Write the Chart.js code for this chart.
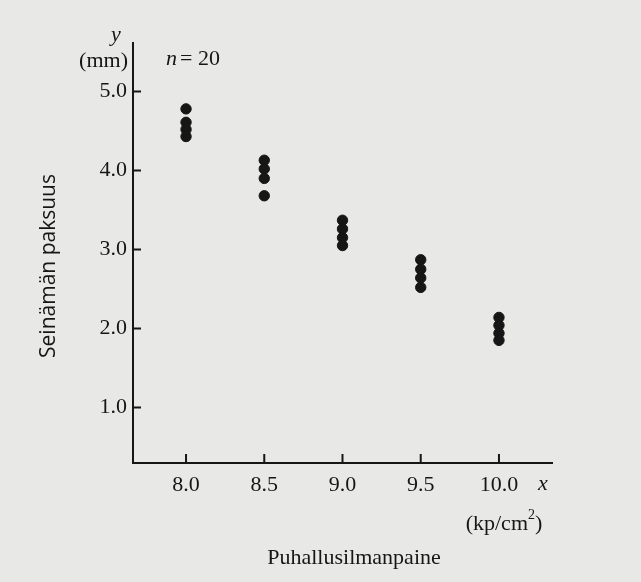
<!DOCTYPE html>
<html>
<head>
<meta charset="utf-8">
<script src="https://cdn.jsdelivr.net/npm/chart.js@4.4.1/dist/chart.umd.min.js"></script>
<style>
  html, body { margin: 0; padding: 0; background: #e8e8e6; }
  #wrap { width: 641px; height: 582px; }
</style>
</head>
<body>
<div id="wrap"><canvas id="chart" width="641" height="582"></canvas></div>
<script>
// blowing pressure (kp/cm2) and measured wall thickness (mm), n = 20
const pressures = [8.0, 8.5, 9.0, 9.5, 10.0];
const thick_80  = [4.78, 4.61, 4.52, 4.43];
const thick_85  = [4.13, 4.02, 3.90, 3.68];
const thick_90  = [3.37, 3.26, 3.15, 3.05];
const thick_95  = [2.87, 2.75, 2.64, 2.52];
const thick_100 = [2.14, 2.04, 1.94, 1.85];
const xTicks = [8.0, 8.5, 9.0, 9.5, 10.0];
const yTicks = [1.0, 2.0, 3.0, 4.0, 5.0];

const groups = [thick_80, thick_85, thick_90, thick_95, thick_100];
const points = [];
pressures.forEach((p, i) => {
	groups[i].forEach(v => points.push({x: p, y: v}));
});

const ink = '#161616';
const serif = '"Liberation Serif", "DejaVu Serif", serif';

// ticks point inward in the book figure, so draw them ourselves
const bookAxes = {
	id: 'bookAxes',
	afterDraw (chart) {
		const ctx = chart.ctx;
		const xs = chart.scales.x, ys = chart.scales.y;
		const area = chart.chartArea;
		ctx.save();
		ctx.strokeStyle = ink;
		ctx.lineWidth = 2;
		ctx.beginPath();
		xTicks.forEach(v => {
			const px = xs.getPixelForValue(v);
			ctx.moveTo(px, area.bottom);
			ctx.lineTo(px, area.bottom - 9);
		});
		yTicks.forEach(v => {
			const py = ys.getPixelForValue(v);
			ctx.moveTo(area.left, py);
			ctx.lineTo(area.left + 8, py);
		});
		ctx.stroke();

		ctx.fillStyle = ink;
		ctx.textBaseline = 'middle';
		ctx.textAlign = 'left';
		ctx.font = 'italic 22px ' + serif;
		ctx.fillText('y', 111, 35);
		ctx.fillText('x', 538, 484);
		ctx.fillText('n', 166, 59);
		ctx.font = '22px ' + serif;
		ctx.fillText('= 20', 180, 59);
		ctx.textAlign = 'right';
		ctx.fillText('(mm)', 128, 61);
		ctx.fillText('(kp/cm', 528, 524);
		ctx.textAlign = 'left';
		ctx.fillText(')', 535, 524);
		ctx.font = '14px ' + serif;
		ctx.fillText('2', 528, 515);
		ctx.textAlign = 'center';
		ctx.font = '22px ' + serif;
		ctx.fillText('Puhallusilmanpaine', 354, 558);

		ctx.translate(49, 266);
		ctx.rotate(-Math.PI / 2);
		ctx.font = '21px "Open Sans", "Noto Sans", sans-serif';
		ctx.fillText('Seinämän paksuus', 0, 0);
		ctx.restore();
	}
};

new Chart(document.getElementById('chart'), {
	type: 'scatter',
	data: {
		datasets: [{
			data: points,
			backgroundColor: ink,
			borderColor: ink,
			pointRadius: 5.2,
			pointHoverRadius: 5.2,
		}],
	},
	options: {
		responsive: false,
		animation: false,
		layout: {padding: {left: 0, right: 89, top: 43, bottom: 0}},
		plugins: {
			legend: {display: false},
			tooltip: {enabled: false},
		},
		scales: {
			x: {
				type: 'linear',
				min: 7.661,
				max: 10.339,
				afterBuildTicks: s => { s.ticks = xTicks.map(v => ({value: v})); },
				afterFit: s => { s.height = 119; },
				grid: {display: false, drawTicks: false},
				border: {display: true, width: 2, color: ink},
				ticks: {
					color: ink,
					padding: 9,
					font: {family: serif, size: 22},
					callback: v => v.toFixed(1),
				},
			},
			y: {
				type: 'linear',
				min: 0.297,
				max: 5.614,
				afterBuildTicks: s => { s.ticks = yTicks.map(v => ({value: v})); },
				afterFit: s => { s.width = 133; },
				grid: {display: false, drawTicks: false},
				border: {display: true, width: 2, color: ink},
				ticks: {
					color: ink,
					padding: 6,
					font: {family: serif, size: 22},
					callback: v => v.toFixed(1),
				},
			},
		},
	},
	plugins: [bookAxes],
});
</script>
</body>
</html>
